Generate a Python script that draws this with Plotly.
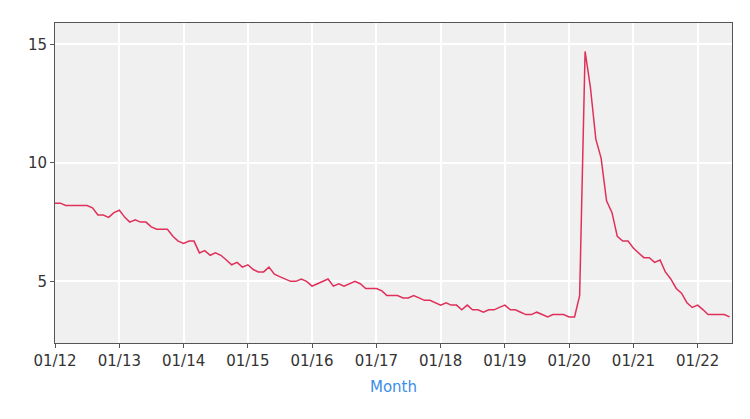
import plotly.graph_objects as go

# monthly unemployment rate, Jan 2012 .. Jul 2022
rate = [
    8.3, 8.3, 8.2, 8.2, 8.2, 8.2, 8.2, 8.1, 7.8, 7.8, 7.7, 7.9,
    8.0, 7.7, 7.5, 7.6, 7.5, 7.5, 7.3, 7.2, 7.2, 7.2, 6.9, 6.7,
    6.6, 6.7, 6.7, 6.2, 6.3, 6.1, 6.2, 6.1, 5.9, 5.7, 5.8, 5.6,
    5.7, 5.5, 5.4, 5.4, 5.6, 5.3, 5.2, 5.1, 5.0, 5.0, 5.1, 5.0,
    4.8, 4.9, 5.0, 5.1, 4.8, 4.9, 4.8, 4.9, 5.0, 4.9, 4.7, 4.7,
    4.7, 4.6, 4.4, 4.4, 4.4, 4.3, 4.3, 4.4, 4.3, 4.2, 4.2, 4.1,
    4.0, 4.1, 4.0, 4.0, 3.8, 4.0, 3.8, 3.8, 3.7, 3.8, 3.8, 3.9,
    4.0, 3.8, 3.8, 3.7, 3.6, 3.6, 3.7, 3.6, 3.5, 3.6, 3.6, 3.6,
    3.5, 3.5, 4.4, 14.7, 13.2, 11.0, 10.2, 8.4, 7.9, 6.9, 6.7, 6.7,
    6.4, 6.2, 6.0, 6.0, 5.8, 5.9, 5.4, 5.1, 4.7, 4.5, 4.1, 3.9,
    4.0, 3.8, 3.6, 3.6, 3.6, 3.6, 3.5,
]
months = [f"{2012 + i // 12}-{i % 12 + 1:02d}-01" for i in range(len(rate))]
tick_vals = [f"{y}-01-01" for y in range(2012, 2023)]
tick_text = [f"01/{y % 100:02d}" for y in range(2012, 2023)]

fig = go.Figure(go.Scatter(x=months, y=rate, mode="lines",
                           line=dict(color="#e0305a", width=1.5)))
fig.update_layout(
    width=750, height=419,
    margin=dict(l=47, r=26, t=15, b=84, autoexpand=False),
    plot_bgcolor="#f0f0f0", paper_bgcolor="white",
    font=dict(family="DejaVu Sans", size=15, color="#333333"),
    showlegend=False,
)
fig.update_xaxes(range=["2012-01-01", "2022-07-15"], tickvals=tick_vals,
                 ticktext=tick_text, gridcolor="white", gridwidth=1.5,
                 showline=True, linecolor="#555555", mirror=True,
                 ticks="outside", ticklen=4, tickcolor="#555555",
                 automargin=False,
                 title=dict(text="Month", standoff=12,
                            font=dict(color="#3a8ee6", size=15)))
fig.update_yaxes(range=[2.4, 15.9], tickvals=[5, 10, 15],
                 gridcolor="white", gridwidth=1.5, zeroline=False,
                 showline=True, linecolor="#555555", mirror=True,
                 ticks="outside", ticklen=4, tickcolor="#555555",
                 automargin=False)

fig.write_html("out.html")
